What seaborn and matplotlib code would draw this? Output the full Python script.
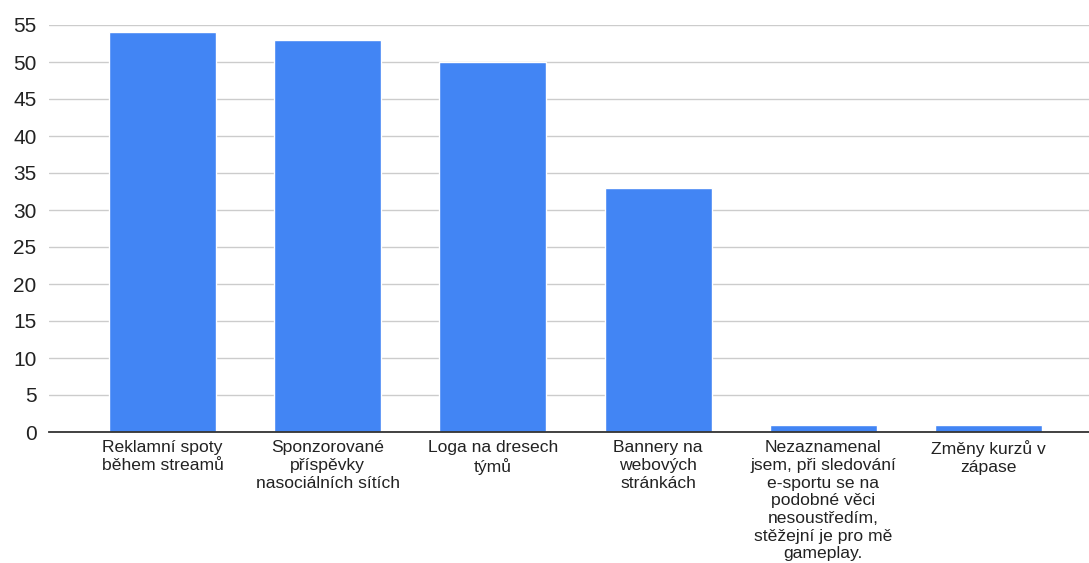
import matplotlib
matplotlib.use("Agg")
import matplotlib.pyplot as plt
import seaborn as sns
import pandas as pd

categories = [
    "Reklamní spoty\nběhem streamů",
    "Sponzorované\npříspěvky\nnasociálních sítích",
    "Loga na dresech\ntýmů",
    "Bannery na\nwebových\nstránkách",
    "Nezaznamenal\njsem, při sledování\ne-sportu se na\npodobné věci\nnesoustředím,\nstěžejní je pro mě\ngameplay.",
    "Změny kurzů v\nzápase",
]
counts = [54, 53, 50, 33, 1, 1]
y_ticks = [0, 5, 10, 15, 20, 25, 30, 35, 40, 45, 50, 55]

sns.set_theme(style="white")
plt.rcParams["font.family"] = ["Liberation Sans", "DejaVu Sans"]

df = pd.DataFrame({"kategorie": categories, "pocet": counts})

fig = plt.figure(figsize=(10.89, 5.63), dpi=100)
ax = fig.add_axes([49 / 1089, 1 - 432 / 563, 1 - 49 / 1089, (432 - 25) / 563])

sns.barplot(data=df, x="kategorie", y="pocet", color="#4285F4", saturation=1,
            width=0.648, ax=ax, zorder=3)

ax.set_ylim(0, 55)
ax.set_xlim(-0.687, 5.608)
ax.set_yticks(y_ticks)
ax.yaxis.grid(True, color="#cccccc", linewidth=1, zorder=0)
ax.set_axisbelow(True)
for s in ["top", "right", "left"]:
    ax.spines[s].set_visible(False)
ax.spines["bottom"].set_color("#333333")
ax.spines["bottom"].set_linewidth(1.3)
ax.spines["bottom"].set_zorder(4)

ax.set_xlabel("")
ax.set_ylabel("")
ax.tick_params(axis="y", length=0, pad=9, labelsize=15, labelcolor="#222222")
ax.tick_params(axis="x", length=0, pad=6, labelsize=12.6, labelcolor="#222222")
for lbl in ax.get_xticklabels():
    lbl.set_linespacing(1.22)
    lbl.set_horizontalalignment("center")

fig.savefig("out.png", dpi=100, facecolor="white")
